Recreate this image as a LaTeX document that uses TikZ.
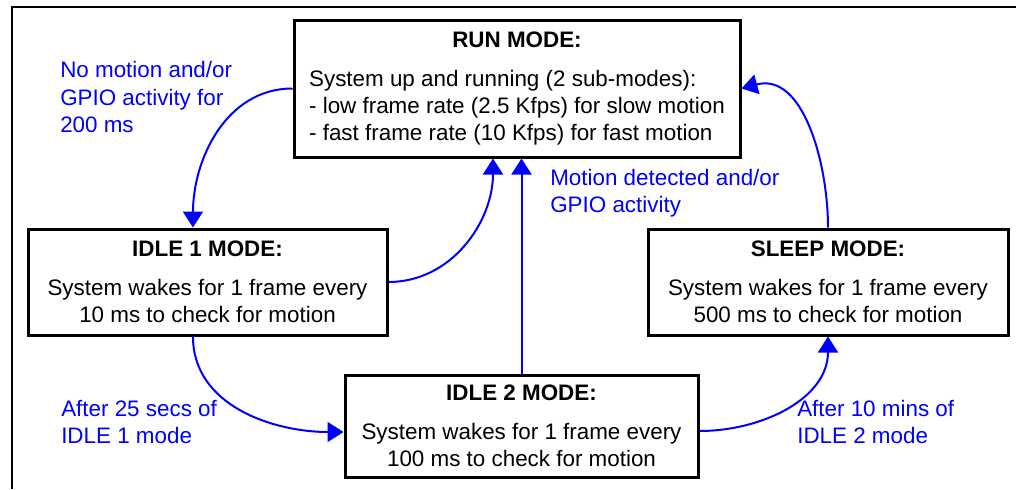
\documentclass[tikz,border=0pt]{standalone}
\usepackage{fontspec}
\setmainfont{Liberation Sans}
\usetikzlibrary{arrows.meta}

\newcommand{\modetitle}[1]{\textbf{#1}}

\begin{document}
\begin{tikzpicture}[x=0.75pt,y=-0.75pt]

\tikzstyle{mode}=[rectangle, draw=black, line width=2.25pt, align=center, inner sep=0pt, font=\fontsize{16.8}{20.25}\selectfont]
\tikzstyle{note}=[text=blue, align=left, anchor=west, inner sep=0pt, font=\fontsize{16.8}{20.5}\selectfont]
\tikzstyle{connect}=[-{Triangle[length=12pt,width=15pt]}, draw=blue, line width=1.5pt]

\useasboundingbox (0,0) rectangle (1016,489);

% outer frame, cut at the right and bottom
\draw[line width=1.5pt] (12,489) -- (12,7) -- (1016,7);

\node[mode, minimum width=334.5pt, minimum height=102.75pt] (run) at (517,88.5)
  {\begin{tabular}{@{}l@{}}\multicolumn{1}{c}{\modetitle{RUN MODE:}}\\[9pt]
   System up and running (2 sub-modes):\\
   - low frame rate (2.5 Kfps) for slow motion\\
   - fast frame rate (10 Kfps) for fast motion\end{tabular}};
\node[mode, minimum width=269.25pt, minimum height=79.5pt] (idle1) at (207.5,282)
  {\modetitle{IDLE 1 MODE:}\\[9pt]System wakes for 1 frame every\\10 ms to check for motion};
\node[mode, minimum width=264.75pt, minimum height=76.5pt] (idle2) at (521.5,426)
  {\modetitle{IDLE 2 MODE:}\\[9pt]System wakes for 1 frame every\\100 ms to check for motion};
\node[mode, minimum width=270pt, minimum height=79.5pt] (sleep) at (828,282)
  {\modetitle{SLEEP MODE:}\\[9pt]System wakes for 1 frame every\\500 ms to check for motion};

\node[note] (nomotion) at (60,97) {No motion and/or\\GPIO activity for\\200 ms};
\node[note] (motion) at (550,193) {Motion detected and/or\\GPIO activity};
\node[note] (after25) at (61,422) {After 25 secs of\\IDLE 1 mode};
\node[note] (after10) at (797,422) {After 10 mins of\\IDLE 2 mode};

\path (run.west) edge[connect, out=180, in=90] ([xshift=-10.9pt]idle1.north);
\path (idle1.east) edge[connect, out=0, in=-90] ([xshift=-18pt]run.south);
\draw[connect] (idle2.north) -- (idle2.north |- run.south);
\path ([xshift=-10.9pt]idle1.south) edge[connect, out=-90, in=180] ([yshift=-4.5pt]idle2.west);
\path ([yshift=-3.75pt]idle2.east) edge[connect, out=0, in=-90] (sleep.south);
\path (sleep.north) edge[connect, out=90, in=15] (run.east);

\end{tikzpicture}
\end{document}
